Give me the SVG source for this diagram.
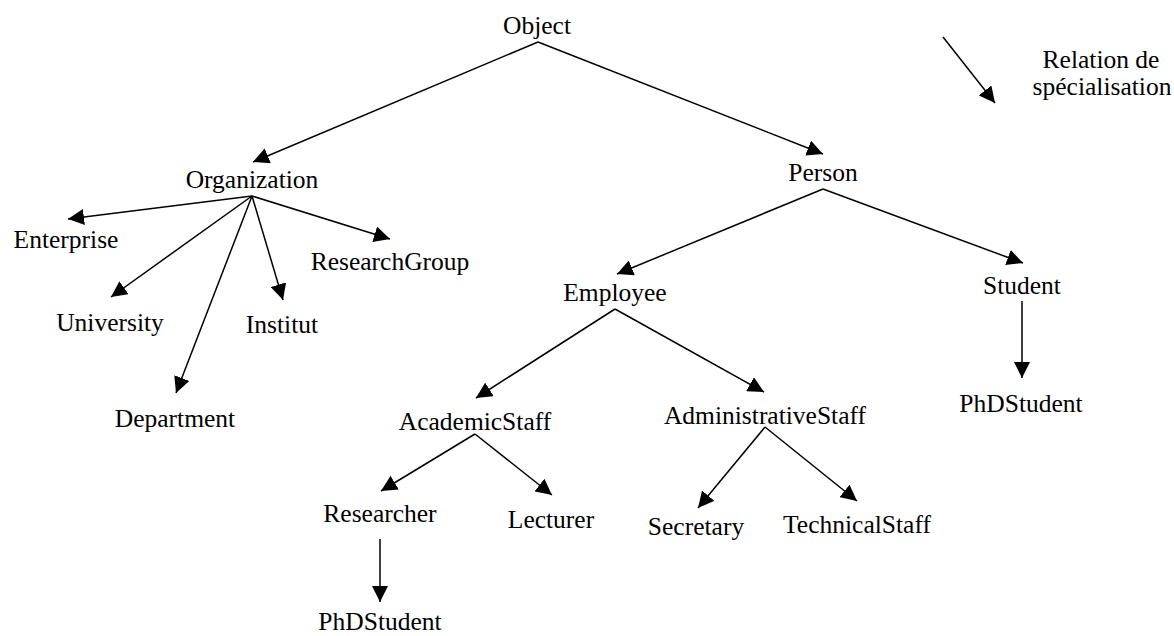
<svg xmlns="http://www.w3.org/2000/svg" width="1174" height="636" viewBox="0 0 1174 636">
  <style>
    .lbl { font-family: "Liberation Serif", "Times New Roman", serif; font-size: 25.5px; fill: #000; text-anchor: middle; }
    .edge { stroke: #000; stroke-width: 1.5; fill: none; marker-end: url(#head); }
  </style>
  <defs>
    <marker id="head" markerUnits="userSpaceOnUse" markerWidth="16" markerHeight="16" refX="16" refY="8" orient="auto">
      <path d="M0,0 L16,8 L0,16 z" fill="#000"/>
    </marker>
  </defs>
  <rect width="1174" height="636" fill="#fff"/>

  <!-- specialisation links -->
  <g id="connectors">
    <line class="edge" x1="538" y1="42" x2="253" y2="162"/>
    <line class="edge" x1="538" y1="42" x2="823" y2="154"/>
    <line class="edge" x1="252" y1="196" x2="68" y2="219"/>
    <line class="edge" x1="252" y1="196" x2="111" y2="297"/>
    <line class="edge" x1="252" y1="196" x2="176" y2="393"/>
    <line class="edge" x1="252" y1="196" x2="283" y2="300"/>
    <line class="edge" x1="252" y1="196" x2="390" y2="239"/>
    <line class="edge" x1="823" y1="189" x2="617" y2="274"/>
    <line class="edge" x1="823" y1="189" x2="1023" y2="263"/>
    <line class="edge" x1="1022" y1="301" x2="1022" y2="378"/>
    <line class="edge" x1="615" y1="309" x2="476" y2="398"/>
    <line class="edge" x1="615" y1="309" x2="764" y2="392"/>
    <line class="edge" x1="475" y1="434" x2="381" y2="491"/>
    <line class="edge" x1="475" y1="434" x2="552" y2="495"/>
    <line class="edge" x1="380" y1="539" x2="380" y2="602"/>
    <line class="edge" x1="765" y1="427" x2="698" y2="508"/>
    <line class="edge" x1="765" y1="427" x2="857" y2="501"/>
  </g>

  <!-- classes -->
  <g id="object"><text class="lbl" x="537" y="34">Object</text></g>
  <g id="organization"><text class="lbl" x="252" y="188">Organization</text></g>
  <g id="person"><text class="lbl" x="823" y="181">Person</text></g>
  <g id="enterprise"><text class="lbl" x="66" y="248">Enterprise</text></g>
  <g id="university"><text class="lbl" x="110" y="331">University</text></g>
  <g id="department"><text class="lbl" x="175" y="427">Department</text></g>
  <g id="institut"><text class="lbl" x="282" y="333">Institut</text></g>
  <g id="researchgroup"><text class="lbl" x="390" y="270">ResearchGroup</text></g>
  <g id="employee"><text class="lbl" x="615" y="301">Employee</text></g>
  <g id="student"><text class="lbl" x="1022" y="294">Student</text></g>
  <g id="phdstudent-student"><text class="lbl" x="1021" y="412">PhDStudent</text></g>
  <g id="academicstaff"><text class="lbl" x="475" y="430">AcademicStaff</text></g>
  <g id="administrativestaff"><text class="lbl" x="765" y="424">AdministrativeStaff</text></g>
  <g id="researcher"><text class="lbl" x="380" y="522">Researcher</text></g>
  <g id="lecturer"><text class="lbl" x="551" y="528">Lecturer</text></g>
  <g id="secretary"><text class="lbl" x="696" y="535">Secretary</text></g>
  <g id="technicalstaff"><text class="lbl" x="857" y="533">TechnicalStaff</text></g>
  <g id="phdstudent-researcher"><text class="lbl" x="380" y="630">PhDStudent</text></g>

  <!-- legend -->
  <g id="legend">
    <line class="edge" x1="943" y1="37" x2="995" y2="103"/>
    <text class="lbl" x="1101" y="68">Relation de</text>
    <text class="lbl" x="1102" y="95">spécialisation</text>
  </g>
</svg>
